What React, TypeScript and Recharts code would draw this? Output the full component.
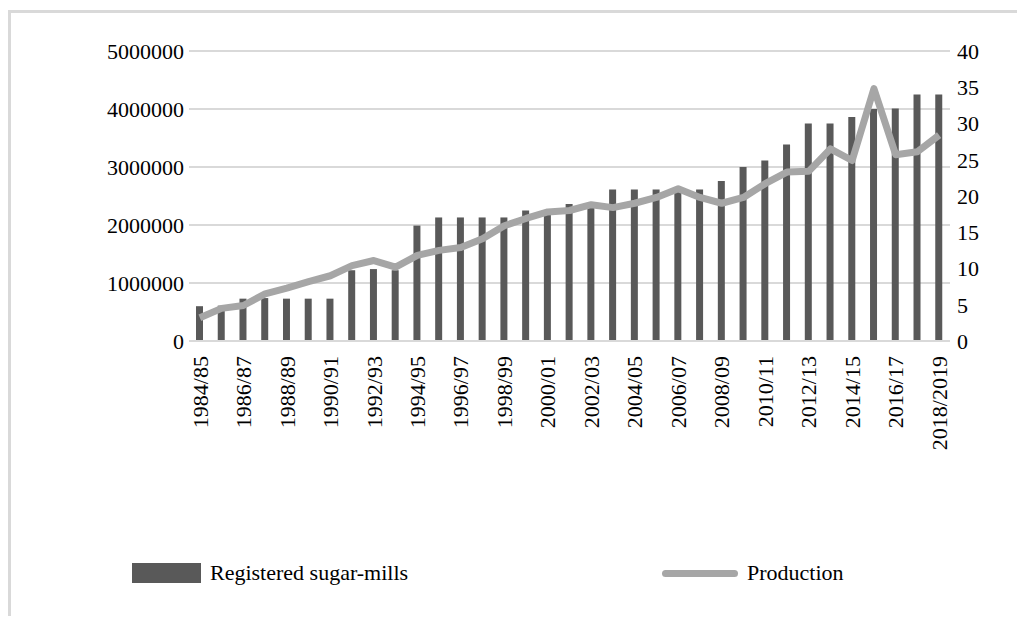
import { ComposedChart, Bar, Line, XAxis, YAxis, CartesianGrid, Legend } from 'recharts';

const seasons = [
  '1984/85', '1985/86', '1986/87', '1987/88', '1988/89', '1989/90', '1990/91', '1991/92',
  '1992/93', '1993/94', '1994/95', '1995/96', '1996/97', '1997/98', '1998/99', '1999/00',
  '2000/01', '2001/02', '2002/03', '2003/04', '2004/05', '2005/06', '2006/07', '2007/08',
  '2008/09', '2009/10', '2010/11', '2011/12', '2012/13', '2013/14', '2014/15', '2015/16',
  '2016/17', '2017/18', '2018/2019',
];

const registeredMills = [
  600000, 610000, 730000, 740000, 730000, 730000, 730000, 1220000,
  1240000, 1220000, 1990000, 2130000, 2130000, 2130000, 2130000, 2250000,
  2250000, 2360000, 2360000, 2610000, 2610000, 2610000, 2610000, 2610000,
  2760000, 3000000, 3110000, 3390000, 3750000, 3750000, 3860000, 4000000,
  4010000, 4250000, 4250000,
];

const production = [
  3.2, 4.5, 4.9, 6.5, 7.3, 8.2, 9.0, 10.4,
  11.1, 10.2, 11.8, 12.5, 12.9, 14.1, 15.9, 16.9,
  17.8, 18.0, 18.8, 18.4, 19.0, 19.8, 21.0, 19.8,
  19.0, 19.8, 21.7, 23.3, 23.4, 26.5, 24.9, 34.8,
  25.7, 26.1, 28.4,
];

const leftTicks = [0, 1000000, 2000000, 3000000, 4000000, 5000000];
const rightTicks = [0, 5, 10, 15, 20, 25, 30, 35, 40];

const FONT = '"Times New Roman", Times, Tinos, "Liberation Serif", "Noto Serif", "DejaVu Serif", serif';
const BAR_COLOR = '#595959';
const LINE_COLOR = '#a6a6a6';
const GRID_COLOR = '#d9d9d9';

const data = seasons.map((season, i) => ({
  season,
  mills: registeredMills[i],
  production: production[i],
}));

function SeasonTick({ x, y, payload }: any) {
  return (
    <g transform={`translate(${x},${y})`}>
      <text
        transform="rotate(-90)"
        x={-7}
        y={0}
        dy="0.35em"
        textAnchor="end"
        fill="#000"
        style={{ fontFamily: FONT, fontSize: 22 }}
      >
        {payload.value}
      </text>
    </g>
  );
}

function LegendContent() {
  const text = { position: 'absolute' as const, top: 6, fontFamily: FONT, fontSize: 22, lineHeight: '22px', color: '#000', whiteSpace: 'nowrap' as const };
  return (
    <div style={{ position: 'relative', width: 1009, height: 40 }}>
      <div style={{ position: 'absolute', left: 124, top: 7, width: 69, height: 20, background: BAR_COLOR }} />
      <span style={{ ...text, left: 202 }}>Registered sugar-mills</span>
      <div style={{ position: 'absolute', left: 654, top: 14, width: 76, height: 7, borderRadius: 4, background: LINE_COLOR }} />
      <span style={{ ...text, left: 739 }}>Production</span>
    </div>
  );
}

const tickStyle = { fill: '#000', fontSize: 22, fontFamily: FONT, style: { fontFamily: FONT } };

export default function App() {
  return (
    <div style={{ position: 'relative', width: 1009, height: 608, fontFamily: FONT }}>
      <div
        style={{
          position: 'absolute', left: 0, top: 2, width: 1009, height: 606,
          borderLeft: `3px solid ${GRID_COLOR}`, borderTop: `3px solid ${GRID_COLOR}`, boxSizing: 'border-box',
        }}
      />
      <ComposedChart
        width={1009}
        height={608}
        data={data}
        margin={{ top: 43, right: 7, left: 0, bottom: 155 }}
        barCategoryGap={0}
        style={{ fontFamily: FONT }}
      >
        <CartesianGrid yAxisId="left" vertical={false} stroke={GRID_COLOR} strokeWidth={2} />
        <XAxis
          dataKey="season"
          interval={1}
          height={120}
          tickLine={false}
          axisLine={{ stroke: GRID_COLOR, strokeWidth: 2 }}
          tick={<SeasonTick />}
        />
        <YAxis
          yAxisId="left"
          width={181}
          domain={[0, 5000000]}
          ticks={leftTicks}
          axisLine={false}
          tickLine={false}
          tickSize={0}
          tickMargin={5}
          tick={tickStyle}
        />
        <YAxis
          yAxisId="right"
          orientation="right"
          width={60}
          domain={[0, 40]}
          ticks={rightTicks}
          axisLine={false}
          tickLine={false}
          tickSize={0}
          tickMargin={7}
          tick={tickStyle}
        />
        <Legend
          layout="horizontal"
          verticalAlign="middle"
          align="center"
          wrapperStyle={{ top: 548, left: 0, width: 1009, height: 40 }}
          content={<LegendContent />}
        />
        <Bar yAxisId="left" dataKey="mills" name="Registered sugar-mills" fill={BAR_COLOR} barSize={7} isAnimationActive={false} />
        <Line
          yAxisId="right"
          type="linear"
          dataKey="production"
          name="Production"
          stroke={LINE_COLOR}
          strokeWidth={7}
          strokeLinejoin="round"
          dot={false}
          activeDot={false}
          isAnimationActive={false}
        />
      </ComposedChart>
    </div>
  );
}
